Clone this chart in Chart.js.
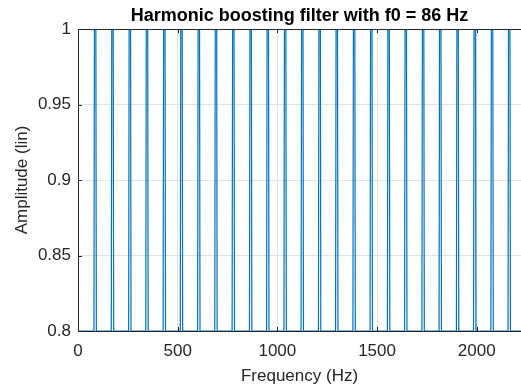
<!DOCTYPE html>
<html>
<head>
<meta charset="utf-8">
<script src="https://cdn.jsdelivr.net/npm/chart.js@4.4.0/dist/chart.umd.min.js"></script>
<style>
  html, body { margin: 0; padding: 0; background: #fff; overflow: hidden; }
  #wrap { width: 521px; height: 392px; }
</style>
</head>
<body>
<div id="wrap"><canvas id="filterChart"></canvas></div>
<script>
// harmonic peaks (Hz)
const harmonicFreqs = [86, 173, 260, 346, 433, 519, 606, 692, 779, 866, 952, 1039, 1125,
    1212, 1298, 1385, 1471, 1558, 1644, 1731, 1817, 1904, 1990, 2077, 2163];
const baseGain = 0.8;
const peakGain = 1.3;
const peakHalfWidth = 6; // Hz
const xRange = [0, 2222];
const xTicks = [0, 500, 1000, 1500, 2000];
const yTicks = [0.8, 0.85, 0.9, 0.95, 1];

const axisColor = "#262626";
const fontFamily = "'Liberation Sans', Arial, Helvetica, sans-serif";

// response curve: flat floor with a narrow spike on every harmonic
const points = [{ x: xRange[0], y: baseGain }];
harmonicFreqs.forEach(function (f) {
    points.push({ x: f - peakHalfWidth, y: baseGain });
    points.push({ x: f, y: peakGain });
    points.push({ x: f + peakHalfWidth, y: baseGain });
});
points.push({ x: xRange[1], y: baseGain });

// matlab style box: top edge and inward tick marks
const matlabBox = {
    id: "matlabBox",
    afterDatasetsDraw(chart) {
        const { ctx, chartArea: a, scales } = chart;
        ctx.save();
        ctx.strokeStyle = axisColor;
        ctx.lineWidth = 1;
        ctx.beginPath();
        ctx.moveTo(a.left, a.top + 0.5);
        ctx.lineTo(a.right, a.top + 0.5);
        ctx.moveTo(a.left + 0.5, a.top);
        ctx.lineTo(a.left + 0.5, a.bottom);
        xTicks.forEach(function (v) {
            const px = Math.round(scales.x.getPixelForValue(v)) + 0.5;
            ctx.moveTo(px, a.bottom);
            ctx.lineTo(px, a.bottom - 4);
            ctx.moveTo(px, a.top);
            ctx.lineTo(px, a.top + 4);
        });
        yTicks.forEach(function (v) {
            const py = Math.round(scales.y.getPixelForValue(v)) + 0.5;
            ctx.moveTo(a.left, py);
            ctx.lineTo(a.left + 4, py);
        });
        ctx.stroke();
        ctx.restore();
    },
};

const ctx = document.getElementById("filterChart").getContext("2d");

new Chart(ctx, {
    type: "line",
    data: {
        datasets: [
            {
                data: points,
                borderColor: "#0072BD",
                borderWidth: 1.2,
                pointRadius: 0,
                tension: 0,
                fill: false,
            },
        ],
    },
    options: {
        responsive: true,
        maintainAspectRatio: false,
        animation: false,
        layout: { padding: { left: 0, right: 0, top: 0, bottom: 0 } },
        scales: {
            x: {
                type: "linear",
                min: xRange[0],
                max: xRange[1],
                afterBuildTicks: function (axis) {
                    axis.ticks = xTicks.map(function (v) { return { value: v }; });
                },
                afterFit: function (axis) { axis.height = 61; },
                grid: { color: "#e2e2e2", drawTicks: false },
                border: { display: true, color: axisColor },
                ticks: {
                    color: axisColor,
                    padding: 10,
                    maxRotation: 0,
                    font: { family: fontFamily, size: 17 },
                    callback: function (value) { return String(value); },
                },
                title: {
                    display: true,
                    text: "Frequency (Hz)",
                    color: axisColor,
                    padding: { top: 0, bottom: 5 },
                    font: { family: fontFamily, size: 17 },
                },
            },
            y: {
                min: yTicks[0],
                max: yTicks[yTicks.length - 1],
                afterBuildTicks: function (axis) {
                    axis.ticks = yTicks.map(function (v) { return { value: v }; });
                },
                afterFit: function (axis) { axis.width = 78; },
                grid: { color: "#e2e2e2", drawTicks: false },
                border: { display: true, color: axisColor },
                ticks: {
                    color: axisColor,
                    padding: 7,
                    font: { family: fontFamily, size: 17 },
                    callback: function (value) { return String(value); },
                },
                title: {
                    display: true,
                    text: "Amplitude (lin)",
                    color: axisColor,
                    padding: { top: 12, bottom: 0 },
                    font: { family: fontFamily, size: 17 },
                },
            },
        },
        plugins: {
            legend: { display: false },
            tooltip: { enabled: false },
            title: {
                display: true,
                text: "Harmonic boosting filter with f0 = 86 Hz",
                color: "#000",
                fullSize: false,
                padding: { top: 5, bottom: 2.4 },
                font: { family: fontFamily, size: 18, weight: "bold" },
            },
        },
    },
    plugins: [matlabBox],
});
</script>
</body>
</html>
